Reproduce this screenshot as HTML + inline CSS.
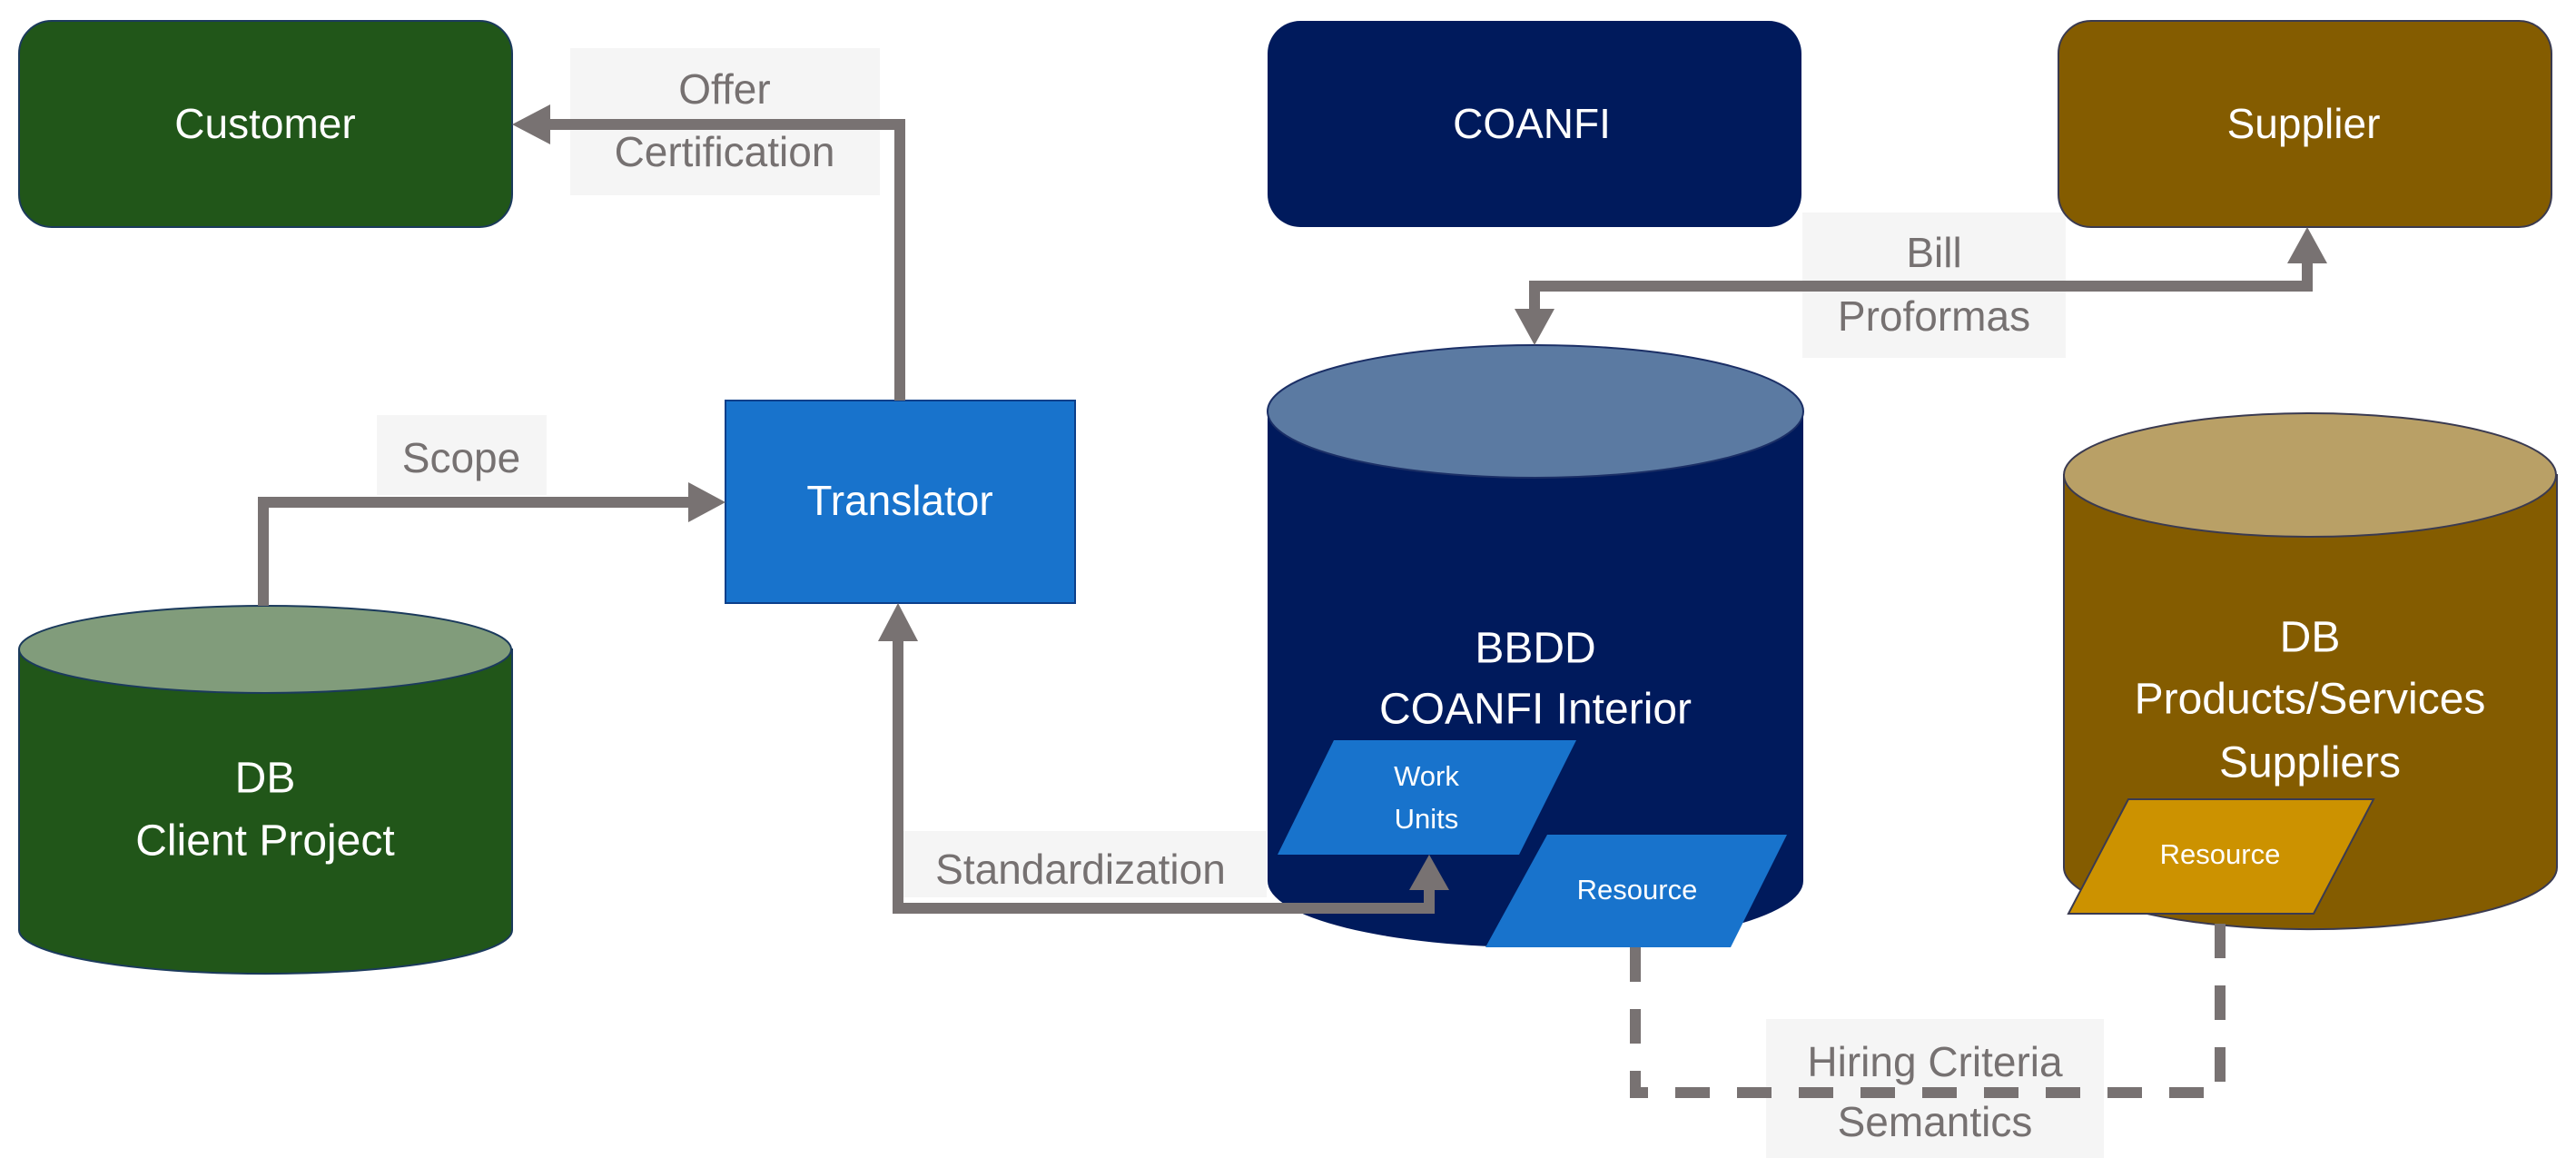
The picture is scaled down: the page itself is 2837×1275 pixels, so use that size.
<!DOCTYPE html>
<html><head><meta charset="utf-8"><style>
html,body{margin:0;padding:0;background:#fff;}
svg{display:block;}
text{font-family:"Liberation Sans",sans-serif;text-anchor:middle;dominant-baseline:middle;}
.w{fill:#fff;}
.g{fill:#767171;font-size:46px;}
</style></head><body>
<svg width="2837" height="1275" viewBox="0 0 2837 1275" xmlns="http://www.w3.org/2000/svg">
<!-- label backgrounds -->
<rect x="628" y="53" width="341" height="162" fill="#f5f5f5"/>
<rect x="415" y="457" width="187" height="88" fill="#f5f5f5"/>
<rect x="987" y="915" width="408" height="73" fill="#f5f5f5"/>
<rect x="1985" y="234" width="290" height="160" fill="#f5f5f5"/>
<rect x="1945" y="1122" width="372" height="153" fill="#f5f5f5"/>

<!-- top boxes -->
<rect x="21" y="23" width="543" height="227" rx="36" fill="#215619" stroke="#1b3a5c" stroke-width="2"/>
<text x="292" y="140" class="w" font-size="46">Customer</text>
<rect x="1396" y="23" width="588" height="227" rx="36" fill="#001a5c"/>
<text x="1687" y="140" class="w" font-size="46">COANFI</text>
<rect x="2267" y="23" width="543" height="227" rx="36" fill="#845c00" stroke="#3a3a50" stroke-width="2"/>
<text x="2537" y="140" class="w" font-size="46">Supplier</text>

<!-- Translator -->
<rect x="799" y="441" width="385" height="223" fill="#1873cc" stroke="#0c3f8a" stroke-width="2"/>
<text x="991" y="555" class="w" font-size="46">Translator</text>

<!-- DB Client Project -->
<path d="M21 715 L21 1024 A271 48 0 0 0 564 1024 L564 715 Z" fill="#215619" stroke="#1b3a5c" stroke-width="2"/>
<ellipse cx="292" cy="715" rx="271" ry="48" fill="#819c7b" stroke="#1b3a5c" stroke-width="2"/>
<text x="292" y="860" class="w" font-size="48">DB</text>
<text x="292" y="929" class="w" font-size="48">Client Project</text>

<!-- BBDD -->
<path d="M1396 453 L1396 970 A295 73 0 0 0 1986 970 L1986 453 Z" fill="#001a5c"/>
<ellipse cx="1691" cy="453" rx="295" ry="73" fill="#5b7aa2" stroke="#1b2f66" stroke-width="2"/>
<text x="1691" y="717" class="w" font-size="48">BBDD</text>
<text x="1691" y="784" class="w" font-size="48">COANFI Interior</text>
<polygon points="1407,941 1469,815 1736,815 1673,941" fill="#1873cc"/>
<text x="1571" y="857" class="w" font-size="31">Work</text>
<text x="1571" y="904" class="w" font-size="31">Units</text>
<polygon points="1636,1043 1704,919 1968,919 1906,1043" fill="#1873cc"/>
<text x="1803" y="982" class="w" font-size="31">Resource</text>

<!-- Supplier DB -->
<path d="M2273 523 L2273 955 A271 68 0 0 0 2816 955 L2816 523 Z" fill="#845c00" stroke="#3a3a50" stroke-width="2"/>
<ellipse cx="2544" cy="523" rx="271" ry="68" fill="#b9a066" stroke="#3a3a50" stroke-width="2"/>
<text x="2544" y="705" class="w" font-size="48">DB</text>
<text x="2544" y="773" class="w" font-size="48">Products/Services</text>
<text x="2544" y="843" class="w" font-size="48">Suppliers</text>
<polygon points="2278,1006 2344,880 2614,880 2548,1006" fill="#cc9200" stroke="#3a3a50" stroke-width="2"/>
<text x="2445" y="943" class="w" font-size="31">Resource</text>

<!-- connectors -->
<g stroke="#787272" stroke-width="12" fill="none">
<polyline points="991,441 991,137 600,137"/>
<polyline points="290,667 290,553 765,553"/>
<polyline points="1574,972 1574,1000 989,1000 989,700"/>
<polyline points="1690,345 1690,315 2541,315 2541,285"/>
<polyline points="1801,1043 1801,1203 2445,1203 2445,1006" stroke-dasharray="38,30"/>
</g>
<g fill="#787272">
<polygon points="564,137 606,115 606,159"/>
<polygon points="799,553 758,531 758,575"/>
<polygon points="989,664 967,706 1011,706"/>
<polygon points="1574,941 1552,980 1596,980"/>
<polygon points="1690,380 1668,340 1712,340"/>
<polygon points="2541,250 2519,290 2563,290"/>
</g>

<!-- labels -->
<text x="798" y="102" class="g">Offer</text>
<text x="798" y="171" class="g">Certification</text>
<text x="508" y="508" class="g">Scope</text>
<text x="1190" y="961" class="g">Standardization</text>
<text x="2130" y="282" class="g">Bill</text>
<text x="2130" y="352" class="g">Proformas</text>
<text x="2131" y="1173" class="g">Hiring Criteria</text>
<text x="2131" y="1239" class="g">Semantics</text>
</svg>
</body></html>
